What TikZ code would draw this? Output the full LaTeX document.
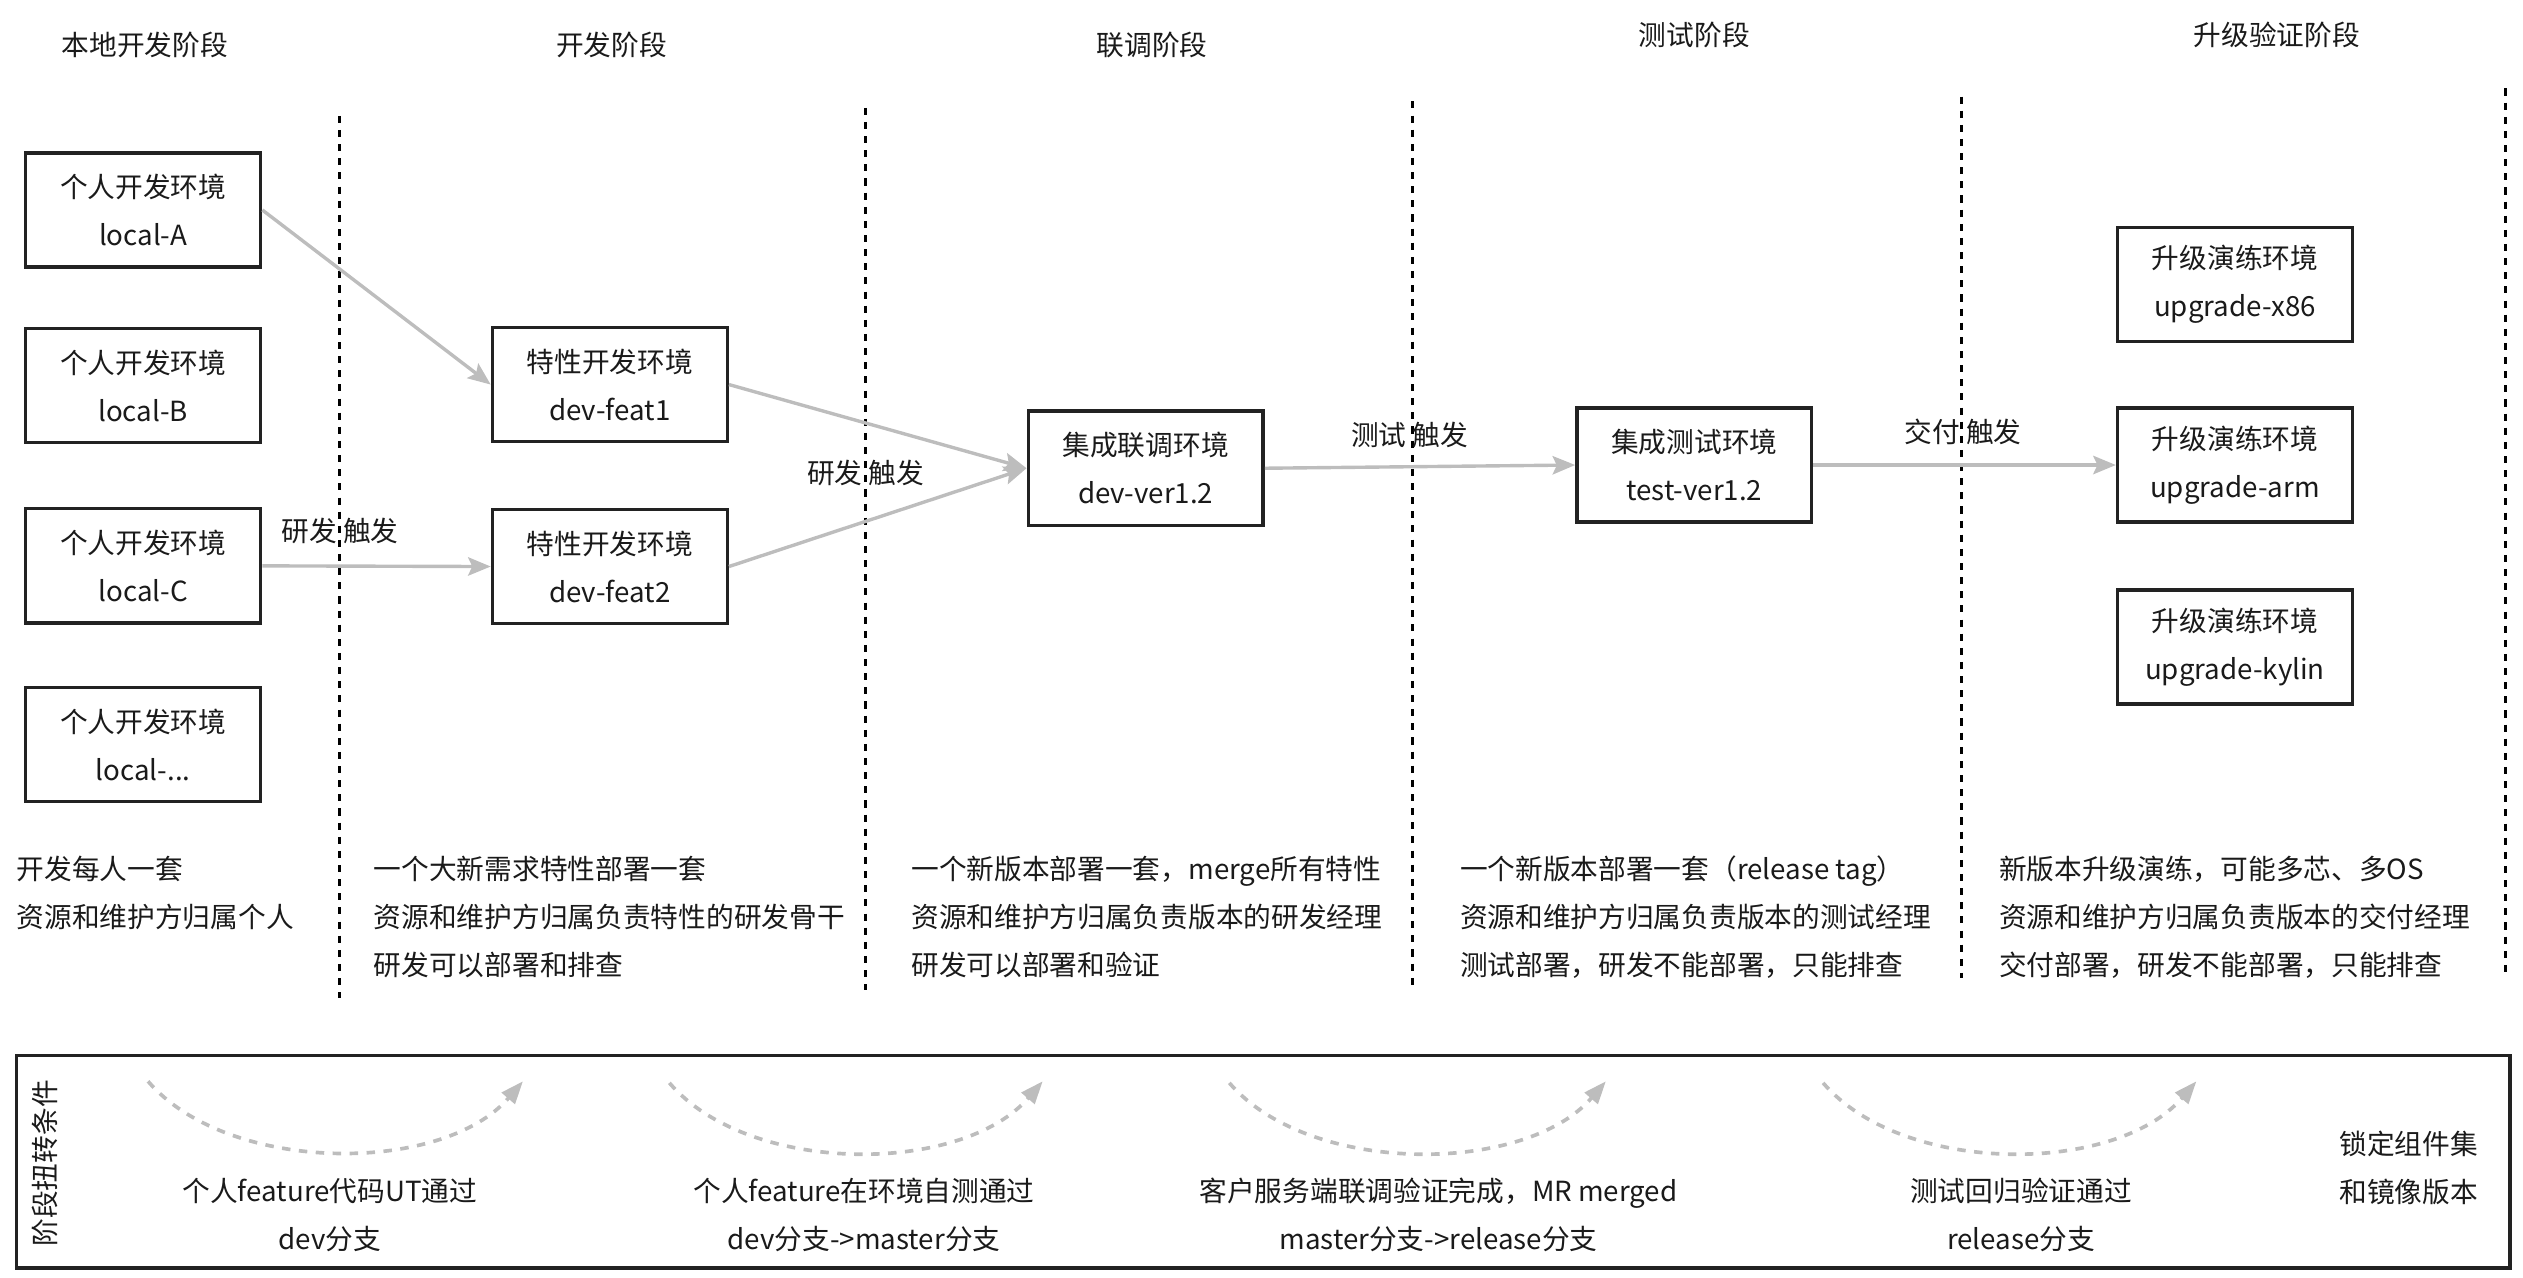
\documentclass[tikz,border=0pt]{standalone}
\usepackage{fontspec}
\setmainfont{Noto Sans CJK SC}
\usepackage{xcolor}
\usetikzlibrary{arrows.meta, positioning}

\definecolor{linegray}{HTML}{BDBDBD}
\definecolor{boxline}{HTML}{222222}
\definecolor{inkblack}{HTML}{1A1A1A}

\begin{document}
\begin{tikzpicture}[
  x=0.02cm, y=-0.02cm,
  font=\fontsize{9.8}{17}\selectfont, text=inkblack,
  envbox/.style={draw=boxline, line width=1.2pt, minimum width=2.92cm,
                 minimum height=1.42cm, align=center, inner sep=0pt},
  note/.style={anchor=west, align=left, inner sep=0pt},
  flow/.style={-{Stealth[length=8pt, width=6.5pt, inset=1.5pt]}, draw=linegray, line width=1.2pt},
  gate/.style={-{Triangle[length=8pt, width=6pt]}, draw=linegray, line width=1.3pt,
               dash pattern=on 3pt off 3pt},
  divider/.style={draw=black, line width=1.2pt, dash pattern=on 2.5pt off 2.5pt},
  trig/.style={inner sep=1pt}
]
  \useasboundingbox (0,0) rectangle (1568,794);

  % stage titles
  \node (t1) at (90,28)   {本地开发阶段};
  \node (t2) at (380,28)  {开发阶段};
  \node (t3) at (716,28)  {联调阶段};
  \node (t4) at (1053,22) {测试阶段};
  \node (t5) at (1415,22) {升级验证阶段};

  % stage dividers
  \draw[divider] (211,72)  -- (211,620);
  \draw[divider] (538,67)  -- (538,615);
  \draw[divider] (878,63)  -- (878,612);
  \draw[divider] (1219,60) -- (1219,608);
  \draw[divider] (1557,55) -- (1557,605);

  % environments
  \node[envbox] (localA) at (89,130.5) {个人开发环境\\local-A};
  \node[envbox, below=0.72cm of localA] (localB) {个人开发环境\\local-B};
  \node[envbox, below=0.78cm of localB] (localC) {个人开发环境\\local-C};
  \node[envbox, below=0.76cm of localC] (localN) {个人开发环境\\local-...};

  \node[envbox] (feat1) at (379,239) {特性开发环境\\dev-feat1};
  \node[envbox, below=0.80cm of feat1] (feat2) {特性开发环境\\dev-feat2};

  \node[envbox] (verDev)  at (712,291)  {集成联调环境\\dev-ver1.2};
  \node[envbox] (verTest) at (1053,289) {集成测试环境\\test-ver1.2};

  \node[envbox] (upArm) at (1389,289) {升级演练环境\\upgrade-arm};
  \node[envbox, above=0.78cm of upArm] (upX86)   {升级演练环境\\upgrade-x86};
  \node[envbox, below=0.80cm of upArm] (upKylin) {升级演练环境\\upgrade-kylin};

  \draw[flow] (localA.east) -- (feat1.west);
  \draw[flow] (localC.east) -- node[trig, above=0.22cm, pos=0.34]{研发 触发} (feat2.west);
  \draw[flow] (feat1.east) -- (verDev.west);
  \draw[flow] (feat2.east) -- (verDev.west);
  \node[trig] (devTrig) at (538,294) {研发 触发};
  \draw[flow] (verDev.east) -- node[trig, above=0.18cm, pos=0.467]{测试 触发} (verTest.west);
  \draw[flow] (verTest.east) -- node[trig, above=0.2cm, pos=0.495]{交付 触发} (upArm.west);

  % stage notes
  \node[note] (n1) at (10,555)   {开发每人一套\\资源和维护方归属个人};
  \node[note] (n2) at (232,570)  {一个大新需求特性部署一套\\资源和维护方归属负责特性的研发骨干\\研发可以部署和排查};
  \node[note] (n3) at (566,570)  {一个新版本部署一套，merge所有特性\\资源和维护方归属负责版本的研发经理\\研发可以部署和验证};
  \node[note] (n4) at (907,570)  {一个新版本部署一套（release tag）\\资源和维护方归属负责版本的测试经理\\测试部署，研发不能部署，只能排查};
  \node[note] (n5) at (1242,570) {新版本升级演练，可能多芯、多OS\\资源和维护方归属负责版本的交付经理\\交付部署，研发不能部署，只能排查};

  % transition conditions
  \node[draw=boxline, line width=1.3pt, minimum width=31cm, minimum height=2.64cm,
        inner sep=0pt] (cond) at (785,722) {};
  \node[rotate=90, inner sep=0pt] (condTitle) at (28,723) {阶段扭转条件};

  \coordinate (g1s) at (92,672);   \coordinate (g1e) at (325,672);
  \coordinate (g2s) at (416,673);  \coordinate (g2e) at (648,672);
  \coordinate (g3s) at (764,673);  \coordinate (g3e) at (998,672);
  \coordinate (g4s) at (1133,673); \coordinate (g4e) at (1365,672);
  \draw[gate] (g1s) .. controls +(50,58) and +(-50,58) .. (g1e);
  \draw[gate] (g2s) .. controls +(50,58) and +(-50,58) .. (g2e);
  \draw[gate] (g3s) .. controls +(50,58) and +(-50,58) .. (g3e);
  \draw[gate] (g4s) .. controls +(50,58) and +(-50,58) .. (g4e);

  \node[align=center, inner sep=0pt] (c1) at (205,755)  {个人feature代码UT通过\\dev分支};
  \node[align=center, inner sep=0pt] (c2) at (537,755)  {个人feature在环境自测通过\\dev分支->master分支};
  \node[align=center, inner sep=0pt] (c3) at (894,755)  {客户服务端联调验证完成，MR merged\\master分支->release分支};
  \node[align=center, inner sep=0pt] (c4) at (1256,755) {测试回归验证通过\\release分支};
  \node[align=center, inner sep=0pt] (c5) at (1497,726) {锁定组件集\\和镜像版本};
\end{tikzpicture}
\end{document}
